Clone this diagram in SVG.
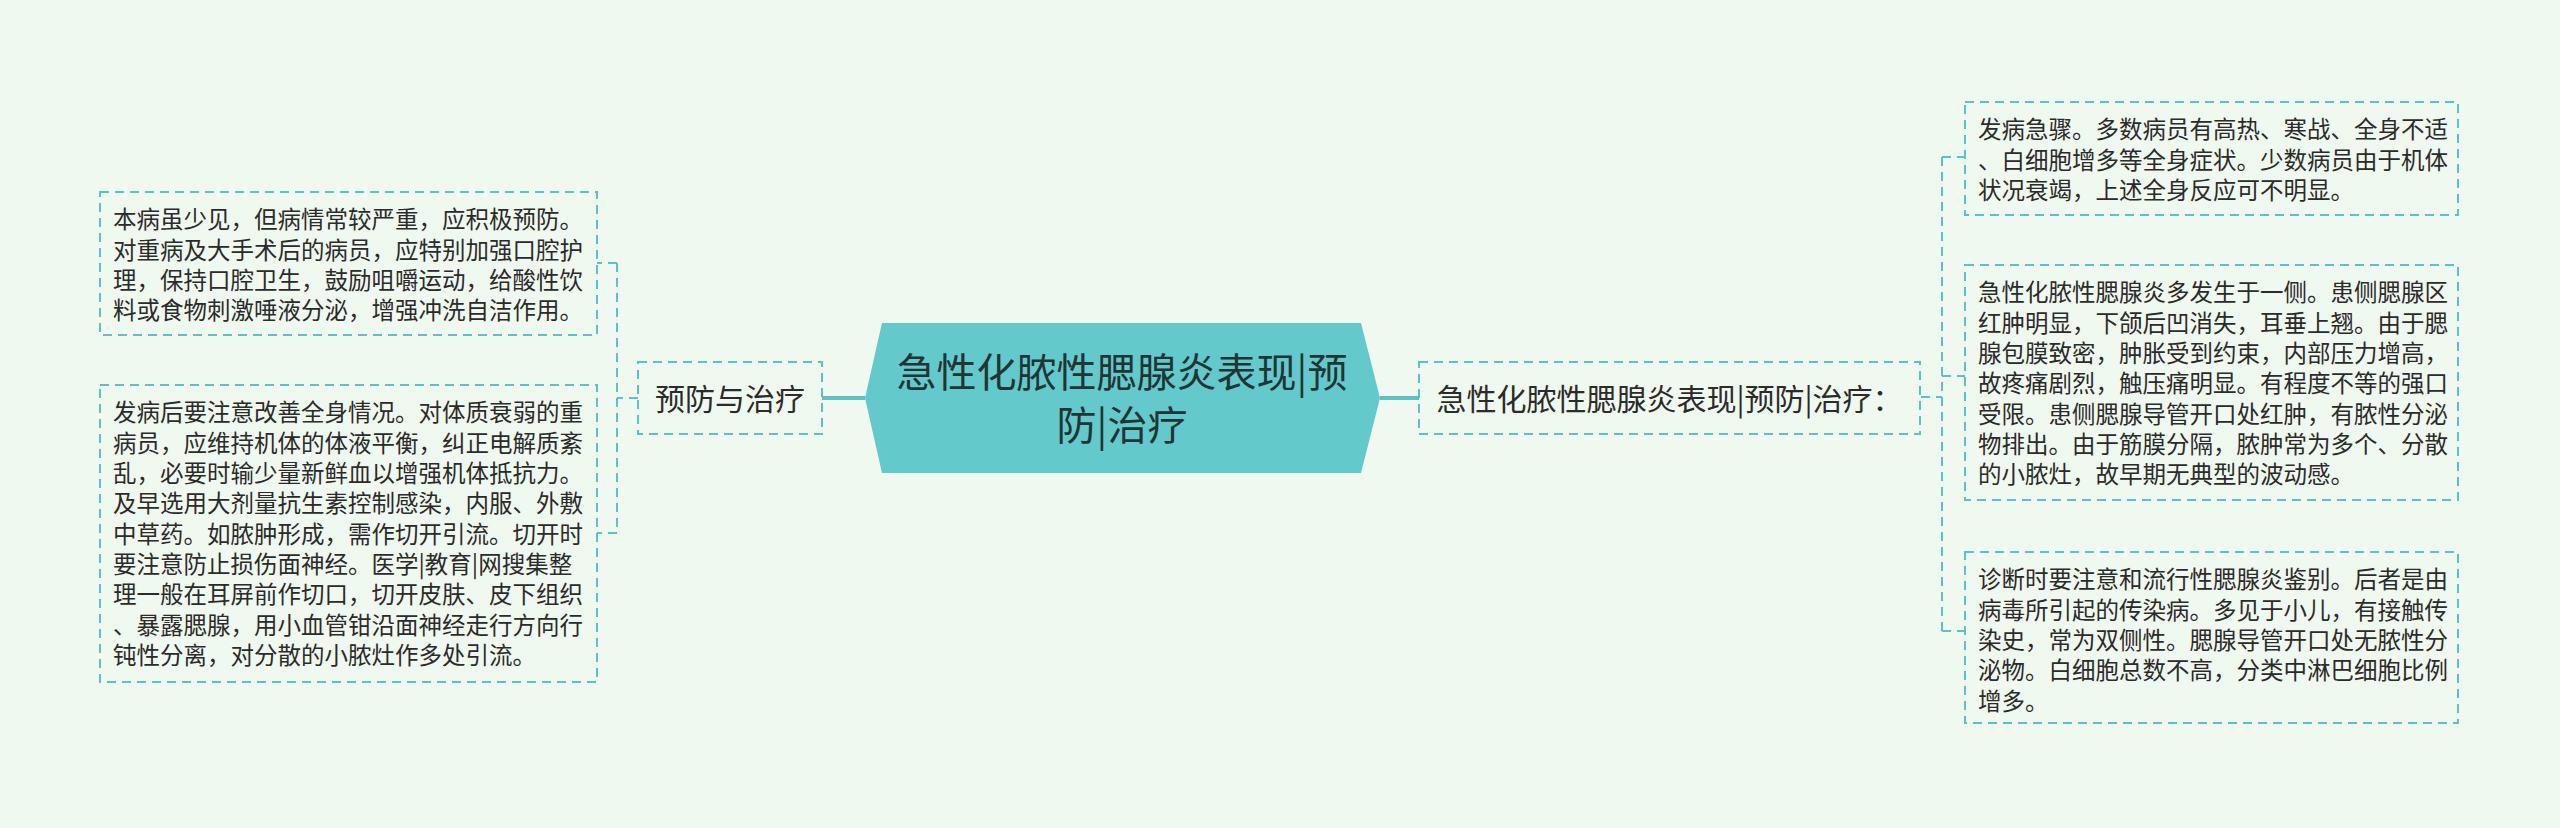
<svg xmlns="http://www.w3.org/2000/svg" width="2560" height="828" viewBox="0 0 2560 828">
<style>
.box{fill:none;stroke:#5ec1c3;stroke-width:2;stroke-dasharray:9 6}
.lnk{fill:none;stroke:#5ec1c3;stroke-width:2;stroke-dasharray:9 6}
.main{fill:none;stroke:#5ec1c3;stroke-width:4}
.t{font-family:"Noto Sans CJK SC","Noto Sans",sans-serif;font-size:23.5px;fill:#2b2b2b}
.t2{font-family:"Noto Sans CJK SC","Noto Sans",sans-serif;font-size:30px;fill:#2b2b2b;text-anchor:middle}
.t1{font-family:"Noto Sans CJK SC","Noto Sans",sans-serif;font-size:40px;fill:#213535;text-anchor:middle}
</style>
<rect x="0" y="0" width="2560" height="828" fill="#f0f9ef"/>
<g id="connectors">
<path class="main" d="M822 398 H865"/>
<path class="main" d="M1380 398 H1419"/>
<path class="lnk" d="M638 398 H617 M617 263 V533 M617 263 H597 M617 533 H597"/>
<path class="lnk" d="M1921 397 H1942 M1942 157 V631 M1942 157 H1965 M1942 376 H1965 M1942 631 H1965"/>
</g>
<g id="root">
<polygon points="865,398 882,323 1361,323 1380,398 1361,473 882,473" fill="#63c9cb"/>
<text class="t1" x="1122" y="387">急性化脓性腮腺炎表现|预</text>
<text class="t1" x="1122" y="440">防|治疗</text>
</g>
<g id="node-prevent">
<rect class="box" x="638" y="362" width="184" height="72"/>
<text class="t2" x="730" y="409.5">预防与治疗</text>
</g>
<g id="node-main">
<rect class="box" x="1419" y="362" width="501" height="72"/>
<text class="t2" x="1669.5" y="409.5">急性化脓性腮腺炎表现|预防|治疗：</text>
</g>
<g id="leaf-left-1">
<rect class="box" x="100" y="192" width="497" height="143"/>
<text class="t" x="113" y="228.4">本病虽少见，但病情常较严重，应积极预防。</text>
<text class="t" x="113" y="258.7">对重病及大手术后的病员，应特别加强口腔护</text>
<text class="t" x="113" y="289">理，保持口腔卫生，鼓励咀嚼运动，给酸性饮</text>
<text class="t" x="113" y="319.3">料或食物刺激唾液分泌，增强冲洗自洁作用。</text>
</g>
<g id="leaf-left-2">
<rect class="box" x="100" y="385" width="497" height="297"/>
<text class="t" x="113" y="421.4">发病后要注意改善全身情况。对体质衰弱的重</text>
<text class="t" x="113" y="451.7">病员，应维持机体的体液平衡，纠正电解质紊</text>
<text class="t" x="113" y="482">乱，必要时输少量新鲜血以增强机体抵抗力。</text>
<text class="t" x="113" y="512.3">及早选用大剂量抗生素控制感染，内服、外敷</text>
<text class="t" x="113" y="542.6">中草药。如脓肿形成，需作切开引流。切开时</text>
<text class="t" x="113" y="572.9">要注意防止损伤面神经。医学|教育|网搜集整</text>
<text class="t" x="113" y="603.2">理一般在耳屏前作切口，切开皮肤、皮下组织</text>
<text class="t" x="113" y="633.5">、暴露腮腺，用小血管钳沿面神经走行方向行</text>
<text class="t" x="113" y="663.8">钝性分离，对分散的小脓灶作多处引流。</text>
</g>
<g id="leaf-right-1">
<rect class="box" x="1965" y="102" width="493" height="113"/>
<text class="t" x="1978" y="138.4">发病急骤。多数病员有高热、寒战、全身不适</text>
<text class="t" x="1978" y="168.7">、白细胞增多等全身症状。少数病员由于机体</text>
<text class="t" x="1978" y="199">状况衰竭，上述全身反应可不明显。</text>
</g>
<g id="leaf-right-2">
<rect class="box" x="1965" y="265" width="493" height="235"/>
<text class="t" x="1978" y="301.4">急性化脓性腮腺炎多发生于一侧。患侧腮腺区</text>
<text class="t" x="1978" y="331.7">红肿明显，下颌后凹消失，耳垂上翘。由于腮</text>
<text class="t" x="1978" y="362">腺包膜致密，肿胀受到约束，内部压力增高，</text>
<text class="t" x="1978" y="392.3">故疼痛剧烈，触压痛明显。有程度不等的强口</text>
<text class="t" x="1978" y="422.6">受限。患侧腮腺导管开口处红肿，有脓性分泌</text>
<text class="t" x="1978" y="452.9">物排出。由于筋膜分隔，脓肿常为多个、分散</text>
<text class="t" x="1978" y="483.2">的小脓灶，故早期无典型的波动感。</text>
</g>
<g id="leaf-right-3">
<rect class="box" x="1965" y="552" width="493" height="171"/>
<text class="t" x="1978" y="588.4">诊断时要注意和流行性腮腺炎鉴别。后者是由</text>
<text class="t" x="1978" y="618.7">病毒所引起的传染病。多见于小儿，有接触传</text>
<text class="t" x="1978" y="649">染史，常为双侧性。腮腺导管开口处无脓性分</text>
<text class="t" x="1978" y="679.3">泌物。白细胞总数不高，分类中淋巴细胞比例</text>
<text class="t" x="1978" y="709.6">增多。</text>
</g>
</svg>
